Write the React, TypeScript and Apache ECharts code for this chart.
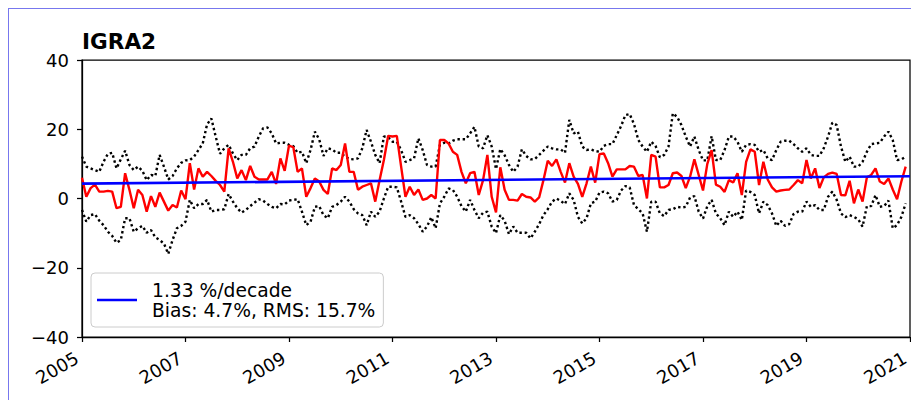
import React, { useEffect, useRef } from 'react';
import * as echarts from 'echarts';

// monthly values, Jan 2005 .. Dec 2020
const startYear = 2005;

const igraValues = [
  6, 0.5, 3, 4, 2, 2, 2.2, 2, -2.8, -2.4, 7.3, 2.5,
  -2.8, 2.5, 1, -3.8, 0.7, -2.4, 1.7, -0.9, -3.5, -1.9, -2.6, 2.3,
  -0.2, 10.2, 2.6, 8.7, 6.3, 7.7, 6.5, 5.1, 3.9, 2, 14.5, 10.6,
  5.8, 8.2, 5.3, 9.4, 6.3, 5.5, 5.5, 5.5, 7.7, 4.2, 11.6, 8,
  15.3, 14.8, 7.7, 8.7, 0.5, 3, 5.8, 4.9, 2.5, 1.3, 8.7, 8.2,
  9.7, 15.9, 7.7, 7.7, 2.5, 3.4, 3.9, 4.4, -0.9, 5.3, 11.1, 18.1,
  17.9, 18.1, 9.2, 0.5, 3.4, 1, 2.6, -0.4, 0, 1, 0, 16.9,
  16.9, 15.9, 13.5, 12.6, 7.7, 4.4, 7.3, 7.7, 1, 5.3, 12.6, 0.5,
  -4, 9, 2.5, -0.4, -0.4, -0.6, 1.3, 0.5, 0.3, -0.9, 0.3, 5.3,
  10.9, 9.4, 11.3, 7.7, 4.6, 10.2, 6.3, 4.2, 0.5, 4.4, 9.2, 4.6,
  12.8, 13, 10.2, 6.3, 8.4, 8.4, 8.4, 9.4, 9.2, 6.5, 6.8, 0,
  12.6, 12.1, 3.2, 3.2, 3.9, 7.3, 7.5, 6.5, 3, 6.3, 11.3, 6.8,
  2.3, 10, 14, 4, 3.4, 1.9, 5.3, 4.6, 7.3, 1, 10.6, 14.2,
  13.5, 3.9, 10.6, 5.5, 3.2, 2, 2.3, 2.5, 2.6, 3.9, 5.3, 4.4,
  11.1, 5.8, 8.7, 3, 6.1, 7.1, 7.5, 7.1, 1, 0.9, 5.1, -1.4,
  2.6, -0.9, 6.1, 6.8, 8.7, 4.9, 4.2, 5.8, 2.6, -0.2, 4.9, 9.2,
];

const upperValues = [
  12.1, 9.2, 8.7, 8.2, 7.7, 10.6, 12.9, 13.2, 8.7, 11.3, 13.8, 9.7,
  8.2, 9.2, 8, 5.3, 6.8, 6.5, 12.6, 9.2, 5.5, 6.5, 8.7, 10.3,
  11, 11.1, 12.1, 14, 15.9, 21.4, 23.1, 17.9, 12.9, 14.5, 15.5, 13,
  11.1, 12.6, 12.6, 14.5, 15, 17.9, 20.3, 20.5, 18.8, 15.9, 16.1, 16.1,
  15.5, 15.1, 13.2, 13.5, 10.2, 14, 19.3, 17.1, 12.3, 14.5, 14.2, 13.2,
  13.2, 12.1, 11.4, 11.3, 11.6, 14.5, 19.8, 16.4, 12.6, 10.2, 17.9, 17.7,
  16.4, 16.4, 14, 10.6, 11.1, 11.6, 17.4, 14, 9.7, 9.2, 9.2, 15.5,
  16.1, 15.9, 16.7, 17.1, 17.1, 17.1, 18.8, 20.7, 15, 14.5, 18.3, 15,
  8.5, 14.3, 12.5, 9.7, 7.7, 9.2, 14.2, 12.3, 11.3, 11.4, 12.6, 13.8,
  15, 14.5, 14.2, 14.2, 13.2, 22.7, 18.8, 19.3, 15, 14, 14.2, 13.7,
  13.5, 15.2, 15.7, 15.7, 18.3, 20.9, 24.1, 24.4, 21.5, 16.9, 15, 13.5,
  16.4, 15.2, 11.9, 12.6, 15, 24.6, 23.6, 21.2, 17.9, 15, 17.9, 14,
  11, 11, 18, 11.1, 11.1, 14, 17.9, 17.9, 16.4, 13.5, 15.5, 15.7,
  15.5, 13.5, 14, 11.6, 11.1, 14, 16.4, 16.7, 16.7, 15.7, 14.5, 13.5,
  14.5, 12.6, 12.3, 12.3, 14.5, 17.9, 21.9, 21.2, 15, 10.6, 12.1, 9.2,
  9.2, 10.6, 13.5, 15.7, 15.9, 16.1, 17.9, 19.3, 16.9, 11.1, 11.3, 12.1,
];

const lowerValues = [
  -3.3, -6.7, -4.8, -4.5, -6.4, -7.7, -9.6, -10.8, -12.8, -12, -5.7, -5.7,
  -9.6, -8.6, -7.9, -9.9, -9.1, -11.2, -12, -13, -16, -12, -8.6, -7.9,
  -6.7, -0.4, -2.8, -1.6, -1.6, -0.4, -3.8, -3.3, -3.3, -3.1, 1.3, -0.9,
  -2.8, -4.1, -3.3, -2.2, -1.2, -0.2, -0.6, -1.6, -2.4, -2.8, -1.6, -1.7,
  -0.6, -0.4, -0.2, -3.8, -7.7, -6.7, -2.4, -2.2, -4.8, -5.7, -2.4, -1.9,
  -0.9, 0.5, -0.9, -3.1, -4.3, -4.8, -7.7, -3.8, -5.3, -3.8, 0, 3.4,
  3.4, 3.2, -0.9, -5.3, -4.8, -5.7, -7.4, -9.6, -8.1, -5.4, -8.6, -1.4,
  0.5, 2.9, 2.5, 0.5, -2.2, -3.8, -0.4, -3.3, -5.7, -4.1, -3.8, -8.1,
  -10, -4.8, -6.4, -10.3, -8.1, -9.9, -9.9, -9.9, -11.5, -9.6, -7.4, -4.8,
  -3.1, -0.9, 0, -0.7, -1.6, 1.5, -0.4, -5.3, -7.2, -5.7, -1.4, -0.9,
  1.7, 2, 1.5, -0.9, -0.4, 2.3, 3.6, 3.2, -1.9, -3.1, -4.3, -9.6,
  -0.9, -0.9, -4.3, -5.1, -3.3, -3.1, -2.4, -2.6, -2.4, 0.3, 0.7, -3.8,
  -5.8, -2.2, -0.4, -4.3, -5.7, -7.7, -3.8, -5.3, -3.8, -6.2, 2.3, 1.9,
  1, -4.3, -0.9, -1.9, -4.3, -7.9, -6.4, -7.9, -7.4, -4.5, -3.8, -3.8,
  -0.9, -2.4, -1.9, -3.3, -3.3, 0.5, 2, -0.4, -4.3, -5.4, -4.8, -5.3,
  -6, -8.1, -2.2, -2.2, 1, -2.4, -2.2, -0.6, -8.6, -7.7, -5.3, -1.4,
];

// linear trend endpoints (year, %)
const trendPoints = [
  [2005, 4.3],
  [2021, 6.43],
];

const trendName = '1.33 %/decade\nBias: 4.7%, RMS: 15.7%';
const yTicks = [-40, -20, 0, 20, 40];
const xTickYears = [2005, 2007, 2009, 2011, 2013, 2015, 2017, 2019, 2021];

const FONT = 'DejaVu Sans';

const toSeries = (vals: number[]) => vals.map((v, i) => [startYear + i / 12, v]);

const App: React.FC = () => {
  const chartRef = useRef<HTMLDivElement>(null);

  useEffect(() => {
    if (!chartRef.current) return;
    document.documentElement.style.overflow = 'hidden';
    const chart = echarts.init(chartRef.current, undefined, { renderer: 'svg' });

    const dotted = {
      color: '#000000',
      width: 2.4,
      type: [2.4, 2.8] as number[],
      cap: 'butt' as const,
    };

    const option = {
      animation: false,
      title: {
        text: 'IGRA2',
        left: 73,
        top: 21,
        padding: 0,
        textStyle: { fontFamily: FONT, fontSize: 21.6, fontWeight: 'bold', color: '#000' },
      },
      grid: {
        left: 73,
        top: 51,
        width: 828,
        height: 277,
        show: true,
        borderColor: '#000',
        borderWidth: 1.25,
        containLabel: false,
      },
      legend: {
        left: 82,
        top: 264,
        orient: 'vertical',
        padding: [7, 8, 7, 6],
        backgroundColor: 'rgba(255,255,255,0.8)',
        borderColor: '#cccccc',
        borderWidth: 1,
        borderRadius: 4,
        itemWidth: 40,
        itemHeight: 2.5,
        selectedMode: false,
        data: [{ name: trendName, icon: 'rect' }],
        textStyle: {
          fontFamily: FONT,
          fontSize: 18.7,
          lineHeight: 20,
          color: '#000',
          padding: [0, 0, 0, 10],
        },
      },
      xAxis: {
        type: 'value',
        min: xTickYears[0],
        max: xTickYears[xTickYears.length - 1],
        interval: 2,
        splitLine: { show: false },
        axisLine: { onZero: false, lineStyle: { color: '#000', width: 1.25 } },
        axisTick: { length: 5, lineStyle: { color: '#000', width: 1.25 } },
        axisLabel: {
          rotate: 30,
          margin: 28,
          align: 'right',
          verticalAlign: 'bottom',
          lineHeight: 20,
          fontFamily: FONT,
          fontSize: 18,
          color: '#000',
          formatter: (v: number) => String(v),
        },
      },
      yAxis: {
        type: 'value',
        min: yTicks[0],
        max: yTicks[yTicks.length - 1],
        interval: 20,
        splitLine: { show: false },
        axisLine: { show: true, onZero: false, lineStyle: { color: '#000', width: 1.25 } },
        axisTick: { show: true, length: 5, lineStyle: { color: '#000', width: 1.25 } },
        axisLabel: {
          margin: 13,
          fontFamily: FONT,
          fontSize: 18,
          color: '#000',
          formatter: (v: number) => String(v).replace('-', '\u2212'),
        },
      },
      series: [
        {
          name: 'upper',
          type: 'line',
          data: toSeries(upperValues),
          showSymbol: false,
          symbol: 'none',
          lineStyle: dotted,
          z: 2,
        },
        {
          name: 'lower',
          type: 'line',
          data: toSeries(lowerValues),
          showSymbol: false,
          symbol: 'none',
          lineStyle: dotted,
          z: 2,
        },
        {
          name: 'IGRA2',
          type: 'line',
          data: toSeries(igraValues),
          showSymbol: false,
          symbol: 'none',
          lineStyle: { color: '#ff0000', width: 2.4 },
          z: 3,
        },
        {
          name: trendName,
          type: 'line',
          data: trendPoints,
          showSymbol: false,
          symbol: 'none',
          color: '#0000ff',
          lineStyle: { color: '#0000ff', width: 2.6 },
          z: 4,
        },
      ],
    };

    chart.setOption(option);
    return () => {
      chart.dispose();
    };
  }, []);

  return (
    <div
      style={{
        borderLeft: '1px solid #7777ee',
        borderTop: '1px solid #7777ee',
        width: 910,
        height: 391,
      }}
    >
      <div ref={chartRef} style={{ width: 910, height: 391 }} />
    </div>
  );
};

export default App;
